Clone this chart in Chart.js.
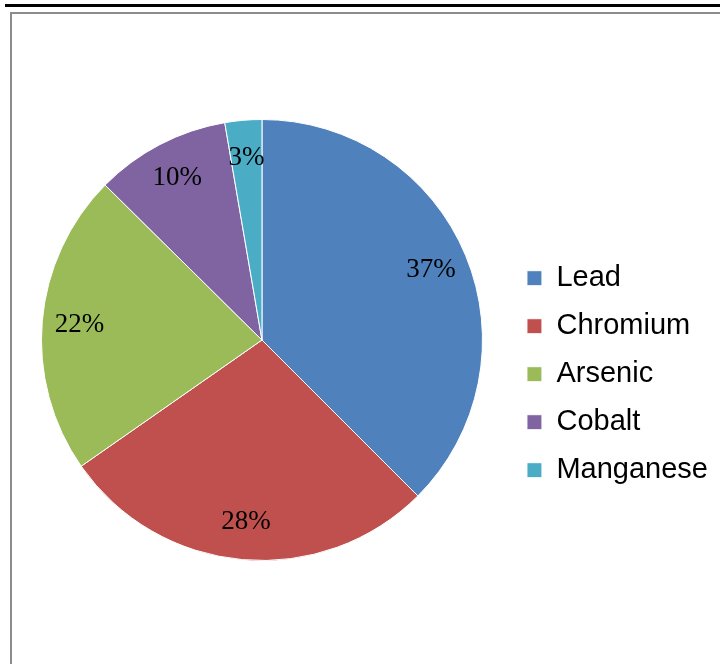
<!DOCTYPE html>
<html>
<head>
<meta charset="utf-8">
<script src="https://cdn.jsdelivr.net/npm/chart.js@4.4.1/dist/chart.umd.min.js"></script>
<style>
  html, body { margin: 0; padding: 0; background: #fff; overflow: hidden; width: 720px; height: 664px; }
  #caption { position: absolute; left: 14px; top: -22px; font: 20px "Liberation Sans", Arial, sans-serif; color: #000; white-space: nowrap; }
  #rule { position: absolute; left: 5px; right: 0; top: 4px; height: 3px; background: #000; }
  #frame { position: absolute; left: 10px; top: 12px; width: 760px; height: 700px; border: 2px solid #8c8c8c; box-sizing: border-box; }
  #pieChart { position: absolute; left: 12px; top: 14px; }
</style>
</head>
<body>
<div id="caption">Figure 4: Key Contaminants of Concern</div>
<div id="rule"></div>
<div id="frame"></div>
<canvas id="pieChart" width="708" height="650"></canvas>
<script>
// dados (fatias em %)
const contaminantes = ["Lead", "Chromium", "Arsenic", "Cobalt", "Manganese"];
const percentuais = [37.5, 27.8, 22.1, 9.9, 2.7];
const cores = ["#4F81BD", "#C0504D", "#9BBB59", "#8064A2", "#4BACC6"];

// rótulos de porcentagem dentro das fatias
const rotulosFatias = {
  id: "rotulosFatias",
  afterDatasetsDraw(chart) {
    const ctx = chart.ctx;
    const meta = chart.getDatasetMeta(0);
    const total = percentuais.reduce((a, b) => a + b, 0);
    ctx.save();
    ctx.font = '27px "Liberation Serif", serif';
    ctx.fillStyle = "#000";
    ctx.textAlign = "center";
    ctx.textBaseline = "middle";
    meta.data.forEach(function(arc, i) {
      const p = arc.getProps(["x", "y", "startAngle", "endAngle", "outerRadius"], true);
      const meio = (p.startAngle + p.endAngle) / 2;
      const r = p.outerRadius * 0.83;
      const txt = Math.round(percentuais[i] / total * 100) + "%";
      ctx.fillText(txt, p.x + Math.cos(meio) * r, p.y + Math.sin(meio) * r);
    });
    ctx.restore();
  }
};

const config = {
  type: "pie",
  data: {
    labels: contaminantes,
    datasets: [{
      data: percentuais,
      backgroundColor: cores,
      borderColor: "#ffffff",
      borderWidth: 1
    }]
  },
  options: {
    responsive: false,
    animation: false,
    devicePixelRatio: 1,
    layout: {
      padding: { left: 4, right: 2, top: 105, bottom: 103 }
    },
    plugins: {
      tooltip: { enabled: false },
      legend: {
        position: "right",
        title: {
          display: true,
          text: " ",
          padding: { top: 54, bottom: 0 }
        },
        labels: {
          boxWidth: 15,
          boxHeight: 15,
          padding: 19,
          color: "#000",
          font: { family: '"Liberation Sans", Arial, sans-serif', size: 29 }
        }
      }
    }
  },
  plugins: [rotulosFatias]
};

new Chart(document.getElementById("pieChart"), config);
</script>
</body>
</html>
